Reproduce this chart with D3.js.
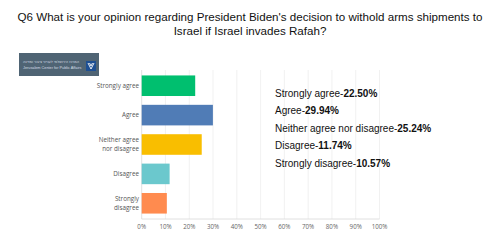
<!DOCTYPE html>
<html>
<head>
<meta charset="utf-8">
<script src="https://cdn.jsdelivr.net/npm/d3@7"></script>
<style>
  body { margin: 0; background: #fff; }
  svg { display: block; }
</style>
</head>
<body>
<svg id="chart" width="500" height="251"></svg>
<script>
const categories = ["Strongly agree", "Agree", "Neither agree nor disagree", "Disagree", "Strongly disagree"];
const catLines = [["Strongly agree"], ["Agree"], ["Neither agree", "nor disagree"], ["Disagree"], ["Strongly", "disagree"]];
const values = [22.50, 29.94, 25.24, 11.74, 10.57];
const colors = ["#00bf6f", "#507cb6", "#f9be00", "#6bc8cd", "#ff8b4f"];
const ticks = [0, 10, 20, 30, 40, 50, 60, 70, 80, 90, 100];
const titleLines = [
  "Q6 What is your opinion regarding President Biden's decision to withold arms shipments to",
  "Israel if Israel invades Rafah?"
];

const svg = d3.select("#chart");

// title
svg.append("g").selectAll("text")
  .data(titleLines)
  .enter().append("text")
  .attr("x", 250)
  .attr("y", (d, i) => 20.5 + i * 14.5)
  .attr("text-anchor", "middle")
  .style("font-family", "Liberation Sans, Arial, sans-serif")
  .style("font-size", "11.6px")
  .attr("fill", "#111")
  .text(d => d);

// logo
const logo = svg.append("g").attr("transform", "translate(19,53)");
logo.append("rect").attr("width", 80).attr("height", 23).attr("fill", "#4f6474");
logo.append("text").attr("x", 4).attr("y", 9.5)
  .style("font-family", "DejaVu Sans, sans-serif").style("font-size", "3.6px")
  .attr("fill", "#d5dde3").text("המרכז הירושלמי לענייני ציבור ומדינה");
logo.append("text").attr("x", 4).attr("y", 15.5)
  .style("font-family", "Liberation Sans, sans-serif").style("font-size", "3.8px")
  .attr("fill", "#d5dde3").text("Jerusalem Center for Public Affairs");
logo.append("rect").attr("x", 67).attr("y", 8).attr("width", 10).attr("height", 10).attr("fill", "#1d4f93");
logo.append("path").attr("d", "M69,10 L72,16 L75,10 M70.5,10 L72,13 L73.5,10")
  .attr("fill", "none").attr("stroke", "#fff").attr("stroke-width", 0.9);

// chart
const x = d3.scaleLinear().domain([0, 100]).range([141.7, 379.5]);
const y = d3.scaleBand().domain(categories).range([70, 219]).paddingInner(0.3).paddingOuter(0.185);

svg.append("g").selectAll("line")
  .data(ticks)
  .enter().append("line")
  .attr("x1", d => x(d)).attr("x2", d => x(d))
  .attr("y1", 70).attr("y2", 219)
  .attr("stroke", d => d === 0 ? "#d8d8d8" : "#eeeeee")
  .attr("stroke-width", 0.8);

svg.append("line")
  .attr("x1", x(0)).attr("x2", x(100))
  .attr("y1", 219).attr("y2", 219)
  .attr("stroke", "#d8d8d8").attr("stroke-width", 0.8);

svg.append("g").selectAll("rect")
  .data(values)
  .enter().append("rect")
  .attr("x", x(0))
  .attr("y", (d, i) => y(categories[i]))
  .attr("width", d => x(d) - x(0))
  .attr("height", y.bandwidth())
  .attr("fill", (d, i) => colors[i]);

// category labels
const labels = svg.append("g").selectAll("text")
  .data(catLines)
  .enter().append("text")
  .attr("text-anchor", "end")
  .style("font-family", "Open Sans, sans-serif")
  .style("font-size", "6.3px")
  .attr("fill", "#555");
labels.each(function(lines, i) {
  const cy = y(categories[i]) + y.bandwidth() / 2;
  const t = d3.select(this);
  lines.forEach((l, j) => {
    t.append("tspan")
      .attr("x", 139)
      .attr("y", cy + 2.2 + (j - (lines.length - 1) / 2) * 8.5)
      .text(l);
  });
});

// tick labels
svg.append("g").selectAll("text")
  .data(ticks)
  .enter().append("text")
  .attr("x", d => x(d))
  .attr("y", 229)
  .attr("text-anchor", "middle")
  .style("font-family", "Open Sans, sans-serif")
  .style("font-size", "6.2px")
  .attr("fill", "#666")
  .text(d => d + "%");

// value list on right
const list = svg.append("g").selectAll("text")
  .data(categories)
  .enter().append("text")
  .attr("x", 275)
  .attr("y", (d, i) => 96.7 + i * 17.55)
  .style("font-family", "Liberation Sans, Arial, sans-serif")
  .style("font-size", "10px")
  .attr("fill", "#111");
list.append("tspan").text(d => d + "-");
list.append("tspan").style("font-weight", "bold").text((d, i) => values[i].toFixed(2) + "%");
</script>
</body>
</html>
